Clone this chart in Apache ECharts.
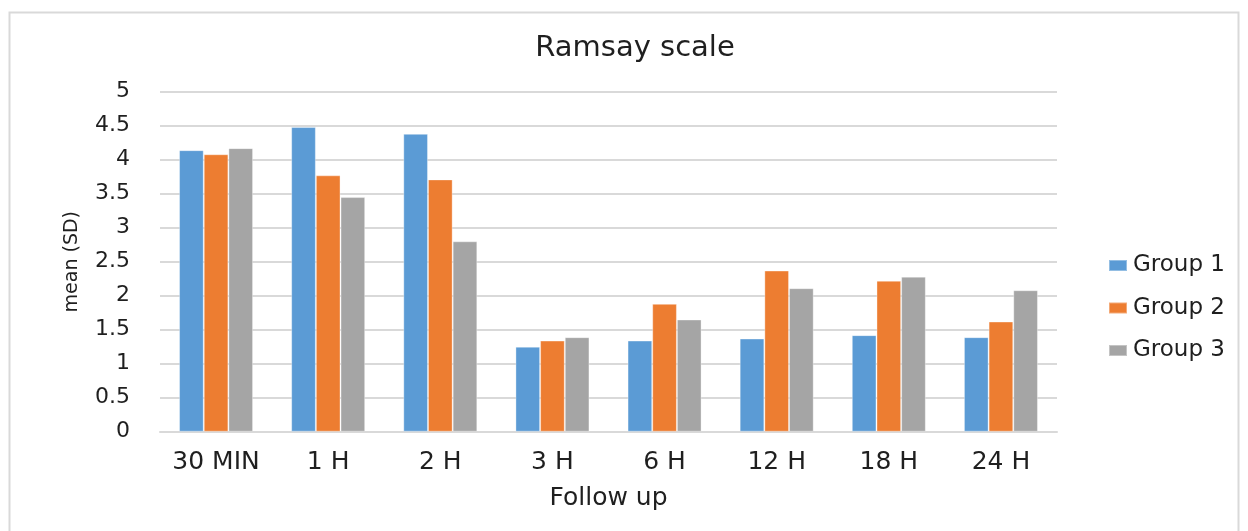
<!DOCTYPE html>
<html>
<head>
<meta charset="utf-8">
<script src="https://cdn.jsdelivr.net/npm/echarts@6/dist/echarts.min.js"></script>
<style>
  html, body { margin: 0; padding: 0; background: #fff; }
  #chart { width: 1248px; height: 531px; }
</style>
</head>
<body>
<div id="chart"></div>
<script>
// Follow-up time points and mean Ramsay sedation scores per group
const categories = ['30 MIN', '1 H', '2 H', '3 H', '6 H', '12 H', '18 H', '24 H'];
const group1 = [4.14, 4.48, 4.38, 1.25, 1.34, 1.37, 1.42, 1.39];
const group2 = [4.08, 3.77, 3.71, 1.34, 1.88, 2.37, 2.22, 1.62];
const group3 = [4.17, 3.45, 2.80, 1.39, 1.65, 2.11, 2.28, 2.08];
const seriesNames = ['Group 1', 'Group 2', 'Group 3'];
const colors = ['#5B9BD5', '#ED7D31', '#A5A5A5'];

const font = '"DejaVu Sans", "Open Sans", sans-serif';
const textColor = '#1f1f1f';
const chart = echarts.init(document.getElementById('chart'));

const makeSeries = (name, data, color) => ({
  name: name,
  type: 'bar',
  data: data,
  barGap: '0%',
  barCategoryGap: '34%',
  itemStyle: { color: color, borderColor: 'rgba(255,255,255,0.35)', borderWidth: 1 },
  emphasis: { disabled: true }
});

chart.setOption({
  animation: false,
  textStyle: { fontFamily: font },
  graphic: [{
    type: 'rect',
    shape: { x: 9.5, y: 12.5, width: 1229, height: 530 },
    style: { fill: 'none', stroke: '#d9d9d9', lineWidth: 2 }
  }],
  title: {
    text: 'Ramsay scale',
    left: 630,
    top: 29,
    textAlign: 'center',
    textStyle: { fontFamily: font, fontSize: 29, fontWeight: 'normal', color: textColor }
  },
  legend: {
    orient: 'vertical',
    left: 1103,
    top: 249,
    itemWidth: 18,
    itemHeight: 11,
    itemGap: 19.5,
    icon: 'rect',
    textStyle: { fontFamily: font, fontSize: 23, color: textColor, padding: [0, 0, 0, 1] },
    data: seriesNames
  },
  grid: { left: 160, right: 191, top: 91.7, bottom: 99.3, containLabel: false },
  xAxis: {
    type: 'category',
    data: categories,
    name: 'Follow up',
    nameLocation: 'middle',
    nameGap: 54,
    nameTextStyle: { fontFamily: font, fontSize: 25, color: textColor },
    axisLine: { lineStyle: { color: '#d9d9d9', width: 2 } },
    axisTick: { show: false },
    axisLabel: { fontFamily: font, fontSize: 25, color: textColor, margin: 18, interval: 0, hideOverlap: false }
  },
  yAxis: {
    type: 'value',
    min: 0,
    max: 5,
    interval: 0.5,
    name: 'mean (SD)',
    nameLocation: 'middle',
    nameGap: 78,
    nameRotate: 90,
    nameTextStyle: { fontFamily: font, fontSize: 19, color: textColor },
    axisLine: { show: false },
    axisTick: { show: false },
    axisLabel: { fontFamily: font, fontSize: 22, color: textColor, margin: 30 },
    splitLine: { lineStyle: { color: '#d9d9d9', width: 2 } }
  },
  series: [
    makeSeries(seriesNames[0], group1, colors[0]),
    makeSeries(seriesNames[1], group2, colors[1]),
    makeSeries(seriesNames[2], group3, colors[2])
  ]
});
</script>
</body>
</html>
